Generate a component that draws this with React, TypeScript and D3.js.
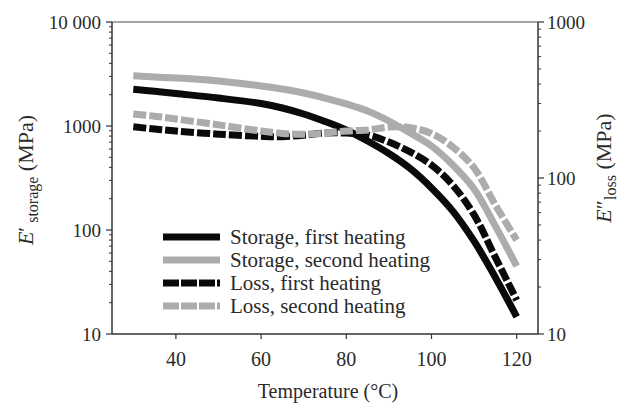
import React from 'react';
import * as d3 from 'd3';

// temperature grid (°C)
const temps = [30, 35, 40, 50, 60, 65, 70, 75, 80, 85, 90, 95, 100, 105, 110, 115, 120];

// storage modulus (MPa), left axis
const storageFirst = [2254, 2160, 2053, 1858, 1644, 1490, 1304, 1105, 916, 718, 544, 390, 254, 152, 78, 35, 14.6];
const storageSecond = [3050, 2960, 2894, 2710, 2425, 2270, 2075, 1858, 1629, 1393, 1117, 857, 643, 422, 248, 109, 45];

// loss modulus (MPa), right axis
const lossFirst = [213, 206, 200, 191, 185, 184, 188, 194, 194, 189, 170, 147, 121, 90, 58, 31, 16.5];
const lossSecond = [257, 249, 239, 219, 200, 193, 191, 194, 200, 203, 212, 210, 193, 158, 116, 67, 40];

const xTicks = [40, 60, 80, 100, 120];
const leftTicks = [10, 100, 1000, 10000];
const leftTickLabels = ['10', '100', '1000', '10 000'];
const rightTicks = [10, 100, 1000];
const rightTickLabels = ['10', '100', '1000'];

const legendLabels = [
  'Storage, first heating',
  'Storage, second heating',
  'Loss, first heating',
  'Loss, second heating',
];

const W = 621;
const H = 403;
const M = { left: 112, right: 538, top: 22, bottom: 334 };
const FONT = '"Liberation Serif", "Times New Roman", serif';
const BLACK = '#0a0a0a';
const GRAY = '#acacac';

export default function App() {
  const x = d3.scaleLinear().domain([25, 125]).range([M.left, M.right]);
  const yL = d3.scaleLog().domain([10, 10000]).range([M.bottom, M.top]);
  const yR = d3.scaleLog().domain([10, 1000]).range([M.bottom, M.top]);

  const mk = (vals: number[], y: d3.ScaleLogarithmic<number, number>) =>
    d3
      .line<number>()
      .x((_, i) => x(temps[i]))
      .y((d) => y(d))
      .curve(d3.curveCatmullRom.alpha(0.5))(vals) || '';

  const series = [
    { vals: storageFirst, y: yL, color: BLACK, dash: undefined },
    { vals: storageSecond, y: yL, color: GRAY, dash: undefined },
    { vals: lossFirst, y: yR, color: BLACK, dash: '13,3' },
    { vals: lossSecond, y: yR, color: GRAY, dash: '13,3' },
  ];

  const minorL: number[] = [];
  [10, 100, 1000].forEach((d) => {
    for (let k = 2; k <= 9; k++) minorL.push(d * k);
  });
  const minorR: number[] = [];
  [10, 100].forEach((d) => {
    for (let k = 2; k <= 9; k++) minorR.push(d * k);
  });

  const axisColor = '#333';
  const textColor = '#2a2a2a';

  return (
    <svg width={W} height={H} style={{ position: 'absolute', left: 0, top: 0, background: '#fff' }}>
      <rect x={0} y={0} width={W} height={H} fill="#fff" />

      {/* curves */}
      {series.map((s, i) => (
        <path
          key={i}
          d={mk(s.vals, s.y)}
          fill="none"
          stroke={s.color}
          strokeWidth={7}
          strokeDasharray={s.dash}
        />
      ))}

      {/* frame */}
      <line x1={M.left} x2={M.right} y1={M.top} y2={M.top} stroke="#888" strokeWidth={1.5} />
      <line x1={M.left} x2={M.right} y1={M.bottom} y2={M.bottom} stroke={axisColor} strokeWidth={1.5} />
      <line x1={M.left} x2={M.left} y1={M.top} y2={M.bottom} stroke={axisColor} strokeWidth={1.5} />
      <line x1={M.right} x2={M.right} y1={M.top} y2={M.bottom} stroke={axisColor} strokeWidth={1.5} />

      {/* x axis */}
      {xTicks.map((t) => (
        <g key={t}>
          <line x1={x(t)} x2={x(t)} y1={M.bottom} y2={M.bottom + 5} stroke={axisColor} strokeWidth={1.2} />
          <text x={x(t)} y={M.bottom + 32} textAnchor="middle" fontFamily={FONT} fontSize={20} fill={textColor}>
            {t}
          </text>
        </g>
      ))}
      <text x={(M.left + M.right) / 2 + 3} y={398} textAnchor="middle" fontFamily={FONT} fontSize={20} fill={textColor}>
        Temperature (°C)
      </text>

      {/* left axis */}
      {minorL.map((t) => (
        <line key={t} x1={M.left} x2={M.left - 3} y1={yL(t)} y2={yL(t)} stroke={axisColor} strokeWidth={1} />
      ))}
      {leftTicks.map((t, i) => (
        <g key={t}>
          <line x1={M.left} x2={M.left - 6} y1={yL(t)} y2={yL(t)} stroke={axisColor} strokeWidth={1.2} />
          <text x={M.left - 11} y={yL(t) + 7} textAnchor="end" fontFamily={FONT} fontSize={19} fill={textColor}>
            {leftTickLabels[i]}
          </text>
        </g>
      ))}
      <text
        transform={`translate(33,${180}) rotate(-90)`}
        textAnchor="middle"
        fontFamily={FONT}
        fontSize={22}
        fill={textColor}
      >
        <tspan fontStyle="italic">E</tspan>
        <tspan>′</tspan>
        <tspan fontSize={16} dy={5}> storage</tspan>
        <tspan dy={-5}> (MPa)</tspan>
      </text>

      {/* right axis */}
      {minorR.map((t) => (
        <line key={t} x1={M.right} x2={M.right + 3} y1={yR(t)} y2={yR(t)} stroke={axisColor} strokeWidth={1} />
      ))}
      {rightTicks.map((t, i) => (
        <g key={t}>
          <line x1={M.right} x2={M.right + 6} y1={yR(t)} y2={yR(t)} stroke={axisColor} strokeWidth={1.2} />
          <text x={M.right + 9} y={yR(t) + 7} textAnchor="start" fontFamily={FONT} fontSize={19} fill={textColor}>
            {rightTickLabels[i]}
          </text>
        </g>
      ))}
      <text
        transform={`translate(611,${168}) rotate(-90)`}
        textAnchor="middle"
        fontFamily={FONT}
        fontSize={22}
        fill={textColor}
      >
        <tspan fontStyle="italic">E</tspan>
        <tspan>″</tspan>
        <tspan fontSize={16} dy={5}>loss</tspan>
        <tspan dy={-5}> (MPa)</tspan>
      </text>

      {/* legend */}
      {series.map((s, i) => {
        const ly = 237 + i * 23;
        return (
          <g key={i}>
            <line
              x1={163}
              x2={220}
              y1={ly}
              y2={ly}
              stroke={s.color}
              strokeWidth={7}
              strokeDasharray={s.dash ? '16,2' : undefined}
            />
            <text x={230} y={ly + 7} fontFamily={FONT} fontSize={21} fill={textColor}>
              {legendLabels[i]}
            </text>
          </g>
        );
      })}
    </svg>
  );
}
